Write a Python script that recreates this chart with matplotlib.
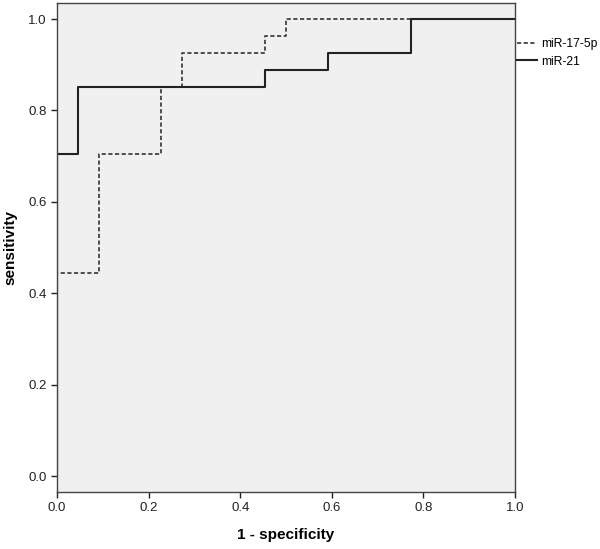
import matplotlib.pyplot as plt

plt.rcParams['font.family'] = ['Liberation Sans', 'DejaVu Sans']

# ROC step points (1 - specificity, sensitivity)
mir17_fpr = [0.0, 0.0, 0.0909, 0.0909, 0.2273, 0.2273, 0.2727, 0.2727, 0.4545, 0.4545, 0.5, 0.5, 1.0]
mir17_tpr = [0.0, 0.444, 0.444, 0.704, 0.704, 0.852, 0.852, 0.926, 0.926, 0.963, 0.963, 1.0, 1.0]

mir21_fpr = [0.0, 0.0, 0.0455, 0.0455, 0.4545, 0.4545, 0.5909, 0.5909, 0.7727, 0.7727, 1.0]
mir21_tpr = [0.0, 0.704, 0.704, 0.852, 0.852, 0.889, 0.889, 0.926, 0.926, 1.0, 1.0]

ticks = [0.0, 0.2, 0.4, 0.6, 0.8, 1.0]
tick_labels = ['0.0', '0.2', '0.4', '0.6', '0.8', '1.0']

fig = plt.figure(figsize=(6, 5.49), dpi=100)
ax = fig.add_axes([0.095, 0.1038, 0.7633, 0.8907])
ax.set_facecolor('#f0f0f0')

ax.plot(mir17_fpr, mir17_tpr, color='#333333', lw=1.2, dashes=(2.5, 1.5), label='miR-17-5p')
ax.plot(mir21_fpr, mir21_tpr, color='#222222', lw=1.5, label='miR-21')

ax.set_xlim(0, 1)
ax.set_ylim(-0.035, 1.035)
ax.set_xticks(ticks)
ax.set_xticklabels(tick_labels)
ax.set_yticks(ticks)
ax.set_yticklabels(tick_labels)
ax.tick_params(direction='out', length=4, width=1, labelsize=9.5, colors='#222222')

for s in ax.spines.values():
    s.set_color('#444444')
    s.set_linewidth(1.0)

ax.set_xlabel('1 - specificity', fontsize=11, fontweight='bold', labelpad=10)
ax.set_ylabel('sensitivity', fontsize=11, fontweight='bold', labelpad=8)

ax.legend(loc='upper left', bbox_to_anchor=(1.004, 0.928), frameon=False,
          handlelength=1.7, handletextpad=0.3, fontsize=8.7,
          borderaxespad=0.0, borderpad=0.0, labelspacing=0.45)

fig.savefig('out.png', dpi=100)
